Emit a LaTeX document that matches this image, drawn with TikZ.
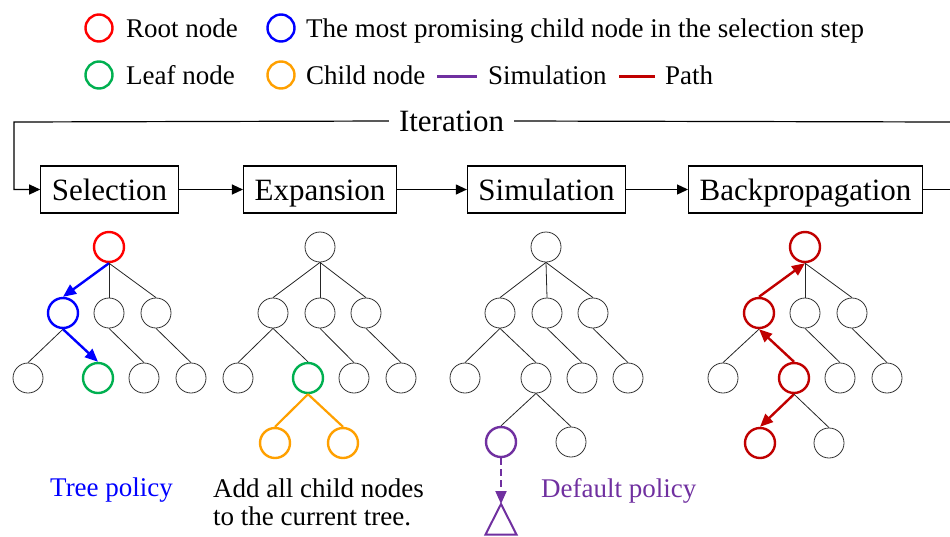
\documentclass[tikz,border=0pt]{standalone}
\usepackage{fontspec}
\setmainfont{Liberation Serif}
\usetikzlibrary{arrows.meta}
\definecolor{rootred}{RGB}{255,0,0}
\definecolor{selblue}{RGB}{0,0,255}
\definecolor{leafgreen}{RGB}{0,176,80}
\definecolor{childorange}{RGB}{255,160,0}
\definecolor{simpurple}{RGB}{112,48,160}
\definecolor{pathred}{RGB}{192,0,0}

\begin{document}
\begin{tikzpicture}[x=1pt,y=-1pt,
  tn/.style={circle,draw=black!80,line width=0.8pt,minimum size=30pt,inner sep=0pt},
  hl/.style={tn,line width=2.4pt},
  edge/.style={draw=black!85,line width=0.8pt},
  tip/.style={-{Triangle[length=13pt,width=11pt]}},
  hledge/.style={line width=2.4pt},
  stepbox/.style={draw,line width=1.2pt,inner xsep=11pt,minimum height=47pt,
    text height=22.4pt,text depth=0pt,font=\fontsize{31}{36}\selectfont},
  flow/.style={line width=1.2pt,-{Triangle[length=11pt,width=10pt]}},
  legtext/.style={anchor=base west,inner sep=0pt,font=\fontsize{27}{30}\selectfont},
  legcirc/.style={circle,draw,line width=2.4pt,minimum size=27pt,inner sep=0pt},
  caption/.style={anchor=base west,inner sep=0pt,font=\fontsize{27}{30}\selectfont}
]
\useasboundingbox (0,0) rectangle (950,536);

% ---------- legend ----------
\node[legcirc,draw=rootred]     (lg1) at (99,28) {};
\node[legtext] (lt1) at (126,37.5) {Root node};
\node[legcirc,draw=selblue]     (lg2) at (281,28) {};
\node[legtext] (lt2) at (306,37.5) {The most promising child node in the selection step};
\node[legcirc,draw=leafgreen]   (lg3) at (99,75) {};
\node[legtext] (lt3) at (126,84.5) {Leaf node};
\node[legcirc,draw=childorange] (lg4) at (281,75) {};
\node[legtext] (lt4) at (306,84.5) {Child node};
\coordinate (sa) at (437,76);
\coordinate (sb) at (477,76);
\draw[simpurple,line width=3pt] (sa) -- (sb);
\node[legtext] (lt5) at (488,84.5) {Simulation};
\coordinate (pa) at (619,76);
\coordinate (pb) at (655,76);
\draw[pathred,line width=3pt] (pa) -- (pb);
\node[legtext] (lt6) at (665,84.5) {Path};

% ---------- the four steps ----------
\node[stepbox] (sel) at (109.5,189.5) {Selection};
\node[stepbox] (exp) at (320,189.5) {Expansion};
\node[stepbox] (sim) at (546.5,189.5) {Simulation};
\node[stepbox] (bp)  at (805.5,189.5) {Backpropagation};
\node[inner xsep=10pt,inner ysep=0pt,font=\fontsize{31}{36}\selectfont] (iter) at (451.5,121) {Iteration};

\coordinate (loopL) at (14,122);
\coordinate (loopR) at (950,122);
\coordinate (loopR2) at (950,189.5);
\draw[flow] (iter.west) -- (loopL) |- (sel.west);
\draw[line width=1.2pt] (iter.east) -- (loopR);
\draw[line width=1.2pt] (bp.east) -- (loopR2);
\draw[flow] (sel) -- (exp);
\draw[flow] (exp) -- (sim);
\draw[flow] (sim) -- (bp);

% ---------- selection tree ----------
\node[hl,draw=rootred]   (s0) at (109,247) {};
\node[hl,draw=selblue]   (s1) at (63,313) {};
\node[tn]                (s2) at (109,313) {};
\node[tn]                (s3) at (156,313) {};
\node[tn]                (s4) at (28,378) {};
\node[hl,draw=leafgreen] (s5) at (98,378) {};
\node[tn]                (s6) at (144,378) {};
\node[tn]                (s7) at (191,378) {};
\draw[selblue,hledge,tip] (s0.south) -- (s1.north);
\draw[edge] (s0.south) -- (s2.north);
\draw[edge] (s0.south) -- (s3.north);
\draw[edge] (s1.south) -- (s4.north);
\draw[selblue,hledge,tip] (s1.south) -- (s5.north);
\draw[edge] (s2.south) -- (s6.north);
\draw[edge] (s3.south) -- (s7.north);
\node[caption,text=selblue] (tp) at (50,496) {Tree policy};

% ---------- expansion tree ----------
\node[tn]                  (e0) at (320,247) {};
\node[tn]                  (e1) at (273,313) {};
\node[tn]                  (e2) at (320,313) {};
\node[tn]                  (e3) at (366,313) {};
\node[tn]                  (e4) at (238,378) {};
\node[hl,draw=leafgreen]   (e5) at (308,378) {};
\node[tn]                  (e6) at (354,378) {};
\node[tn]                  (e7) at (401,378) {};
\node[hl,draw=childorange] (e8) at (275,443) {};
\node[hl,draw=childorange] (e9) at (343,443) {};
\draw[edge] (e0.south) -- (e1.north);
\draw[edge] (e0.south) -- (e2.north);
\draw[edge] (e0.south) -- (e3.north);
\draw[edge] (e1.south) -- (e4.north);
\draw[edge] (e1.south) -- (e5.north);
\draw[edge] (e2.south) -- (e6.north);
\draw[edge] (e3.south) -- (e7.north);
\draw[childorange,line width=2.2pt] (e5.south) -- (e8.north);
\draw[childorange,line width=2.2pt] (e5.south) -- (e9.north);
\node[caption] (ad1) at (213,497) {Add all child nodes};
\node[caption] (ad2) at (213,525) {to the current tree.};

% ---------- simulation tree ----------
\node[tn]                (m0) at (546,247) {};
\node[tn]                (m1) at (500,313) {};
\node[tn]                (m2) at (547,313) {};
\node[tn]                (m3) at (593,313) {};
\node[tn]                (m4) at (465,378) {};
\node[tn]                (m5) at (536,378) {};
\node[tn]                (m6) at (582,378) {};
\node[tn]                (m7) at (628,378) {};
\node[hl,draw=simpurple] (m8) at (501,442) {};
\node[tn]                (m9) at (571,442) {};
\draw[edge] (m0.south) -- (m1.north);
\draw[edge] (m0.south) -- (m2.north);
\draw[edge] (m0.south) -- (m3.north);
\draw[edge] (m1.south) -- (m4.north);
\draw[edge] (m1.south) -- (m5.north);
\draw[edge] (m2.south) -- (m6.north);
\draw[edge] (m3.south) -- (m7.north);
\draw[edge] (m5.south) -- (m8.north);
\draw[edge] (m5.south) -- (m9.north);
\coordinate (apex) at (501,504);
\draw[simpurple,line width=2pt,dash pattern=on 7pt off 4pt,tip] (m8.south) -- (apex);
\draw[simpurple,line width=2pt,line join=miter] (apex) -- (485.5,534.5) -- (516.5,534.5) -- cycle;
\node[caption,text=simpurple] (dp) at (541,497) {Default policy};

% ---------- backpropagation tree ----------
\node[hl,draw=pathred] (b0) at (805,247) {};
\node[hl,draw=pathred] (b1) at (759,313) {};
\node[tn]              (b2) at (805,313) {};
\node[tn]              (b3) at (852,313) {};
\node[tn]              (b4) at (723,378) {};
\node[hl,draw=pathred] (b5) at (794,378) {};
\node[tn]              (b6) at (840,378) {};
\node[tn]              (b7) at (887,378) {};
\node[hl,draw=pathred] (b8) at (760,443) {};
\node[tn]              (b9) at (829,443) {};
\draw[pathred,hledge,tip] (b1.north) -- (b0.south);
\draw[edge] (b0.south) -- (b2.north);
\draw[edge] (b0.south) -- (b3.north);
\draw[edge] (b1.south) -- (b4.north);
\draw[pathred,hledge,tip] (b5.north) -- (b1.south);
\draw[edge] (b2.south) -- (b6.north);
\draw[edge] (b3.south) -- (b7.north);
\draw[pathred,hledge,tip] (b5.south) -- (b8.north);
\draw[edge] (b5.south) -- (b9.north);
\end{tikzpicture}
\end{document}
